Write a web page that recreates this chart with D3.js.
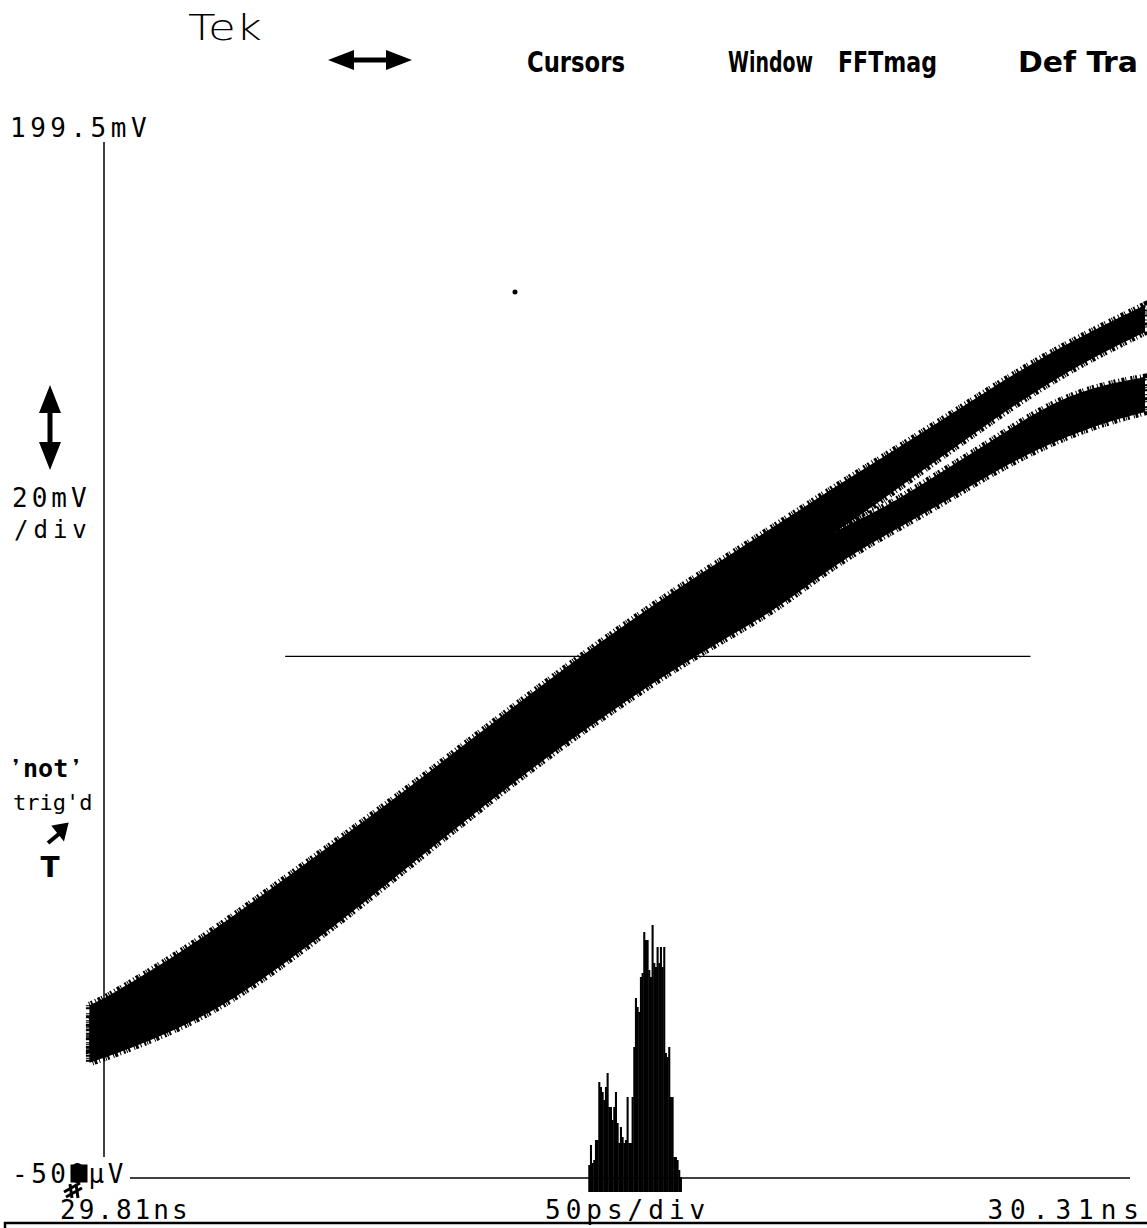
<!DOCTYPE html>
<html>
<head>
<meta charset="utf-8">
<script src="https://cdn.jsdelivr.net/npm/d3@7"></script>
<style>
  body { margin: 0; background: #fff; }
  svg { display: block; }
  .scope { font-family: 'DejaVu Sans Mono', monospace; fill: #000; }
  .menu { font-family: 'DejaVu Sans', sans-serif; font-stretch: condensed; font-weight: bold; font-size: 28px; fill: #000; }
</style>
</head>
<body>
<script>
'use strict';

// screen limits
const xDomainPs = [0, 500];            // 29.81ns .. 30.31ns
const yDomainMv = [-0.5, 199.5];

// sample times, ps after the left edge of the screen
const timesPs = [-7, 0, 25, 50, 75, 100, 125, 150, 175, 200, 225, 250,
  275, 300, 325, 350, 375, 400, 425, 450, 475, 500];

// upper trace (persistence band) edges, mV
const upperTopMv = [32.8, 34.0, 40.0, 46.5, 53.7, 61.0, 68.3, 75.8, 83.6, 91.3, 98.8,
  106.1, 112.9, 119.4, 125.8, 132.4, 138.6, 144.9, 151.4, 157.5, 162.8, 167.7];
const upperBottomMv = [24.2, 25.1, 30.3, 36.1, 42.5, 50.2, 57.9, 65.6, 73.3, 81.6, 88.7,
  96.4, 103.2, 110.4, 116.9, 123.6, 130.5, 137.8, 145.0, 151.8, 157.6, 162.5];

// lower trace edges, mV
const lowerTopMv = [29.9, 30.9, 34.8, 40.0, 46.3, 54.6, 62.7, 70.4, 78.1, 86.8, 93.5,
  100.3, 106.1, 111.8, 117.8, 124.0, 128.6, 135.0, 141.1, 147.8, 152.0, 153.8];
const lowerBottomMv = [21.7, 22.6, 26.4, 31.0, 37.4, 44.8, 52.6, 60.7, 68.8, 76.7, 84.2,
  91.2, 97.8, 103.8, 109.6, 117.5, 123.3, 128.9, 135.0, 140.3, 144.4, 147.1];

// stray dots
const strayPs = [197.4];
const strayMv = [170.2];

// horizontal cursor (histogram window)
const cursorMv = 100;
const cursorFromPs = 87;
const cursorToPs = 445;

// time histogram at the cursor level
const histStartPs = 232.6;
const histBinPs = 0.8;
const histHits = [27, 47, 29, 32, 52, 52, 110, 105, 100, 92, 105, 119, 85, 85, 72, 85,
  100, 69, 49, 65, 55, 49, 52, 95, 49, 49, 95, 145, 194, 185, 180, 215, 219, 260, 252,
  252, 222, 215, 267, 229, 225, 245, 229, 245, 225, 245, 139, 135, 145, 95, 95, 35, 35,
  32, 22, 15];

// labels
const menuLabels = ["Cursors", "Window", "FFTmag", "Def Tra"];
const yTopLabel = "199.5mV";
const yBottomLabel = "-500µV";
const xLeftLabel = "29.81ns";
const xRightLabel = "30.31ns";
const voltsPerDiv = ["20mV", "/div"];
const timePerDiv = "50ps/div";

(function() {

  let svg = "";

  window.onload = function() {
    svg = d3.select('body')
      .append('svg')
      .attr('width', 1147)
      .attr('height', 1228);

    svg.append('rect')
      .attr('width', 1147)
      .attr('height', 1228)
      .attr('fill', '#fff');

    let map = drawAxes();
    plotData(map);
    makeLabels();
  }

  // scales and the y axis line
  function drawAxes() {
    let xScale = d3.scaleLinear().domain(xDomainPs).range([104, 1145]);
    let yScale = d3.scaleLinear().domain(yDomainMv).range([1178, 140]);

    // histogram sits a little below the reference line
    let base = yScale(yDomainMv[0]) + 14;
    let hScale = d3.scaleLinear().domain([0, 270]).range([base, base - 270]);

    svg.append('line')
      .attr('x1', xScale(0)).attr('x2', xScale(0))
      .attr('y1', yScale(yDomainMv[1]) + 2)
      .attr('y2', 1157)
      .attr('stroke', '#000')
      .attr('stroke-width', 1.5);

    return { x: xScale, y: yScale, h: hScale };
  }

  function plotData(map) {
    let upper = timesPs.map((t, i) => ({ t: t, top: upperTopMv[i], bottom: upperBottomMv[i] }));
    let lower = timesPs.map((t, i) => ({ t: t, top: lowerTopMv[i], bottom: lowerBottomMv[i] }));

    let band = d3.area()
      .x(d => map.x(d.t))
      .y0(d => map.y(d.bottom))
      .y1(d => map.y(d.top))
      .curve(d3.curveBasis);

    // solid band plus a broken outline so the edges look noisy
    [upper, lower].forEach(trace => {
      svg.append('path')
        .attr('d', band(trace))
        .attr('fill', '#000')
        .attr('stroke', '#000')
        .attr('stroke-width', 7)
        .attr('stroke-dasharray', '1,1,2,3,1,2,3,1,1,4,2,1');
    });

    svg.selectAll('.stray')
      .data(strayPs)
      .enter()
      .append('circle')
      .attr('cx', (d) => map.x(d))
      .attr('cy', (d, i) => map.y(strayMv[i]))
      .attr('r', 2.5)
      .attr('fill', '#000');

    // cursor line
    svg.append('line')
      .attr('x1', map.x(cursorFromPs)).attr('x2', map.x(cursorToPs))
      .attr('y1', map.y(cursorMv)).attr('y2', map.y(cursorMv))
      .attr('stroke', '#000')
      .attr('stroke-width', 1.3);

    // histogram
    let bw = map.x(histBinPs) - map.x(0);
    svg.selectAll('.hist')
      .data(histHits)
      .enter()
      .append('rect')
      .attr('x', (d, i) => map.x(histStartPs + i * histBinPs))
      .attr('width', bw + 0.4)
      .attr('y', d => map.h(d))
      .attr('height', d => map.h(0) - map.h(d))
      .attr('fill', '#000');

    // reference line, drawn over the histogram
    svg.append('line')
      .attr('x1', 130).attr('x2', 1130)
      .attr('y1', map.y(yDomainMv[0])).attr('y2', map.y(yDomainMv[0]))
      .attr('stroke', '#000')
      .attr('stroke-width', 1.5);
  }

  function makeLabels() {
    svg.append('text')
      .attr('x', 188).attr('y', 40)
      .attr('textLength', 74)
      .attr('lengthAdjust', 'spacingAndGlyphs')
      .style('font-family', "'DejaVu Sans', sans-serif")
      .style('font-weight', 300)
      .style('font-size', '36px')
      .text('Tek');

    // horizontal double arrow
    svg.append('line')
      .attr('x1', 345).attr('x2', 395).attr('y1', 60).attr('y2', 60)
      .attr('stroke', '#000').attr('stroke-width', 5);
    svg.append('path')
      .attr('d', 'M328,60 L354,50 L354,70 Z M412,60 L386,50 L386,70 Z')
      .attr('fill', '#000');

    let menuX = [527, 728, 838, 1018];
    let menuW = [98, 85, 99, 120];
    svg.selectAll('.menu')
      .data(menuLabels)
      .enter()
      .append('text')
      .attr('class', 'menu')
      .attr('x', (d, i) => menuX[i])
      .attr('y', 72)
      .attr('textLength', (d, i) => menuW[i])
      .attr('lengthAdjust', 'spacingAndGlyphs')
      .text(d => d);

    let scopeText = function(txt, x, y, size, spacing, anchor) {
      return svg.append('text')
        .attr('class', 'scope')
        .attr('x', x).attr('y', y)
        .style('font-size', size + 'px')
        .style('letter-spacing', spacing + 'px')
        .style('text-anchor', anchor || 'start')
        .text(txt);
    };

    scopeText(yTopLabel, 10, 137, 26, 4.5);
    scopeText(voltsPerDiv[0], 12, 507, 26, 4);
    scopeText(voltsPerDiv[1], 14, 538, 24, 5);
    scopeText(yBottomLabel, 12, 1183, 26, 3.5);
    scopeText(xLeftLabel, 60, 1219, 26, 3);
    scopeText(timePerDiv, 545, 1219, 26, 5);
    scopeText(xRightLabel, 1146, 1219, 26, 7, 'end');

    // vertical double arrow
    svg.append('line')
      .attr('x1', 50).attr('x2', 50).attr('y1', 400).attr('y2', 455)
      .attr('stroke', '#000').attr('stroke-width', 5);
    svg.append('path')
      .attr('d', 'M50,385 L39,413 L61,413 Z M50,470 L39,442 L61,442 Z')
      .attr('fill', '#000');

    // trigger status
    svg.append('text')
      .attr('x', 8).attr('y', 777)
      .style('font-family', "'DejaVu Sans Mono', monospace")
      .style('font-weight', 'bold')
      .style('font-size', '25px')
      .text('\u275Cnot\u275C');
    svg.append('text')
      .attr('x', 13).attr('y', 810)
      .style('font-family', "'DejaVu Sans Mono', monospace")
      .style('font-size', '22px')
      .text("trig'd");
    svg.append('path')
      .attr('d', 'M48,843 L60,833 M55,827 L66,825 L63,837 Z')
      .attr('stroke', '#000').attr('stroke-width', 4).attr('fill', '#000');
    svg.append('text')
      .attr('x', 50).attr('y', 877)
      .style('font-family', "'DejaVu Sans', sans-serif")
      .style('font-weight', 'bold')
      .style('font-size', '28px')
      .style('text-anchor', 'middle')
      .text('T');

    // trigger position marker at the lower left
    svg.append('path')
      .attr('d', 'M72,1166 L86,1166 L86,1181 L72,1181 Z M64,1192 L80,1183 M66,1197 L82,1188 M70,1184 L72,1198 M76,1184 L78,1198')
      .attr('fill', '#000').attr('stroke', '#000').attr('stroke-width', 3);

    // frame at the bottom edge
    svg.append('rect')
      .attr('x', 5).attr('y', 1223)
      .attr('width', 1160).attr('height', 30)
      .attr('fill', 'none')
      .attr('stroke', '#000')
      .attr('stroke-width', 2.5);
  }

})();
</script>
</body>
</html>
